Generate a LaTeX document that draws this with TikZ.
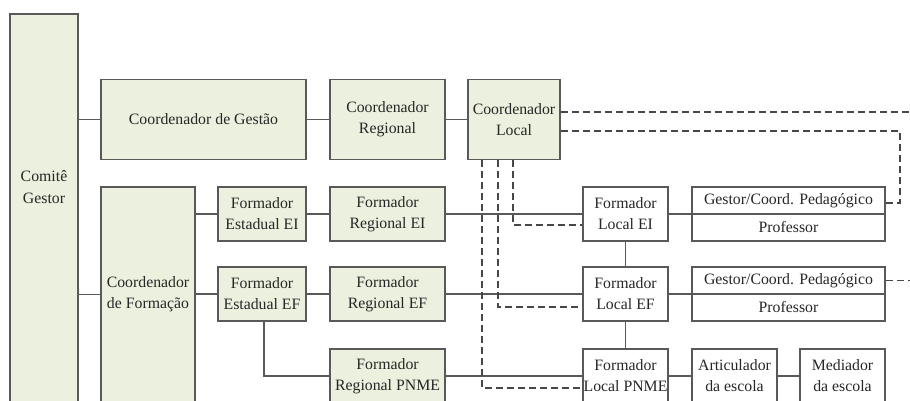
\documentclass[tikz,border=0pt]{standalone}
\usepackage{fontspec}
\newfontfamily\lblfont{Liberation Serif}
\definecolor{boxgreen}{HTML}{EBF1DE}
\definecolor{edge}{HTML}{595959}
\definecolor{txt}{HTML}{262626}
\tikzset{
  box/.style={draw=edge, line width=1.6pt, fill=boxgreen, inner sep=0pt, align=center,
    text=txt, font=\lblfont\fontsize{15.8}{21}\selectfont},
  wbox/.style={box, fill=white},
  link/.style={draw=edge, line width=1.6pt},
  dlink/.style={draw=edge!80!black, line width=1.4pt, dash pattern=on 7pt off 4pt},
}
\begin{document}
\begin{tikzpicture}[x=1pt,y=-1pt]
\useasboundingbox (0,0) rectangle (910,401);
\clip (0,0) rectangle (910,401);
% left column
\node[box, minimum width=68pt, minimum height=410pt] (comite) at (44,219) {};
\node[text=txt, font=\lblfont\fontsize{15.8}{22}\selectfont, align=center] (comitetxt) at (44,187) {Comitê\\Gestor};
% top row
\node[box, minimum width=205pt, minimum height=80pt] (cg) at (203.5,119.5) {Coordenador de Gestão};
\node[box, minimum width=115pt, minimum height=80pt] (cr) at (387.5,119.5) {Coordenador\\Regional};
\node[box, minimum width=92pt, minimum height=80pt] (cl) at (514,119.5) {Coordenador\\Local};
% formation
\node[box, minimum width=94pt, minimum height=215pt] (cf) at (148,294.5) {Coordenador\\de Formação};
\node[box, minimum width=88pt, minimum height=54pt] (feei) at (262,214) {Formador\\Estadual EI};
\node[box, minimum width=88pt, minimum height=54pt] (feef) at (262,294) {Formador\\Estadual EF};
\node[box, minimum width=115pt, minimum height=54pt] (frei) at (387.5,214) {Formador\\Regional EI};
\node[box, minimum width=115pt, minimum height=54pt] (fref) at (387.5,294) {Formador\\Regional EF};
\node[box, minimum width=115pt, minimum height=54pt] (frpnme) at (387.5,376) {Formador\\Regional PNME};
% local
\node[wbox, minimum width=85pt, minimum height=54pt] (flei) at (625.5,214) {Formador\\Local EI};
\node[wbox, minimum width=85pt, minimum height=54pt] (flef) at (625.5,294) {Formador\\Local EF};
\node[wbox, minimum width=85pt, minimum height=54pt] (flpnme) at (625.5,376) {Formador\\Local PNME};
\node[wbox, minimum width=193pt, minimum height=27pt] (gei) at (788.5,200.5) {Gestor/Coord. Pedagógico};
\node[wbox, minimum width=193pt, minimum height=27pt] (pei) at (788.5,227.5) {Professor};
\node[wbox, minimum width=193pt, minimum height=27pt] (gef) at (788.5,280.5) {Gestor/Coord. Pedagógico};
\node[wbox, minimum width=193pt, minimum height=27pt] (pef) at (788.5,307.5) {Professor};
\node[wbox, minimum width=85pt, minimum height=54pt] (art) at (734.5,376) {Articulador\\da escola};
\node[wbox, minimum width=85pt, minimum height=54pt] (med) at (842.5,376) {Mediador\\da escola};
% solid connectors
\draw[link] (cg.west -| comite.east) -- (cg.west);
\draw[link] (cg.east) -- (cr.west);
\draw[link] (cr.east) -- (cl.west);
\draw[link] (cf.west -| comite.east) -- (cf.west);
\draw[link] (feei.west -| cf.east) -- (feei.west);
\draw[link] (feef.west -| cf.east) -- (feef.west);
\draw[link] (feei.east) -- (frei.west);
\draw[link] (feef.east) -- (fref.west);
\draw[link] ([xshift=2pt]feef.south) |- (frpnme.west);
\draw[link] (frei.east) -- (flei.west);
\draw[link] (fref.east) -- (flef.west);
\draw[link] (frpnme.east) -- (flpnme.west);
\draw[link] (flei.south) -- (flef.north);
\draw[link] (flef.south) -- (flpnme.north);
\draw[link] (flei.east) -- (flei.east -| gei.south west);
\draw[link] (flef.east) -- (flef.east -| gef.south west);
\draw[link] (flpnme.east) -- (art.west);
\draw[link] (art.east) -- (med.west);
% dashed connectors
\coordinate (d1end) at (915,112);
\coordinate (d2turn) at (900,131);
\coordinate (d3end) at (915,280.5);
\draw[dlink] ([yshift=7.5pt]cl.east) -- (d1end);
\draw[dlink] ([yshift=-11.5pt]cl.east) -- (d2turn) |- ([yshift=-2.5pt]gei.east);
\draw[dlink] (gef.east) -- (d3end);
\draw[dlink] ([xshift=-1pt]cl.south) |- ([yshift=-11pt]flei.west);
\draw[dlink] ([xshift=-16pt]cl.south) |- ([yshift=-13pt]flef.west);
\draw[dlink] ([xshift=-32pt]cl.south) |- ([yshift=-12pt]flpnme.west);
\end{tikzpicture}
\end{document}
